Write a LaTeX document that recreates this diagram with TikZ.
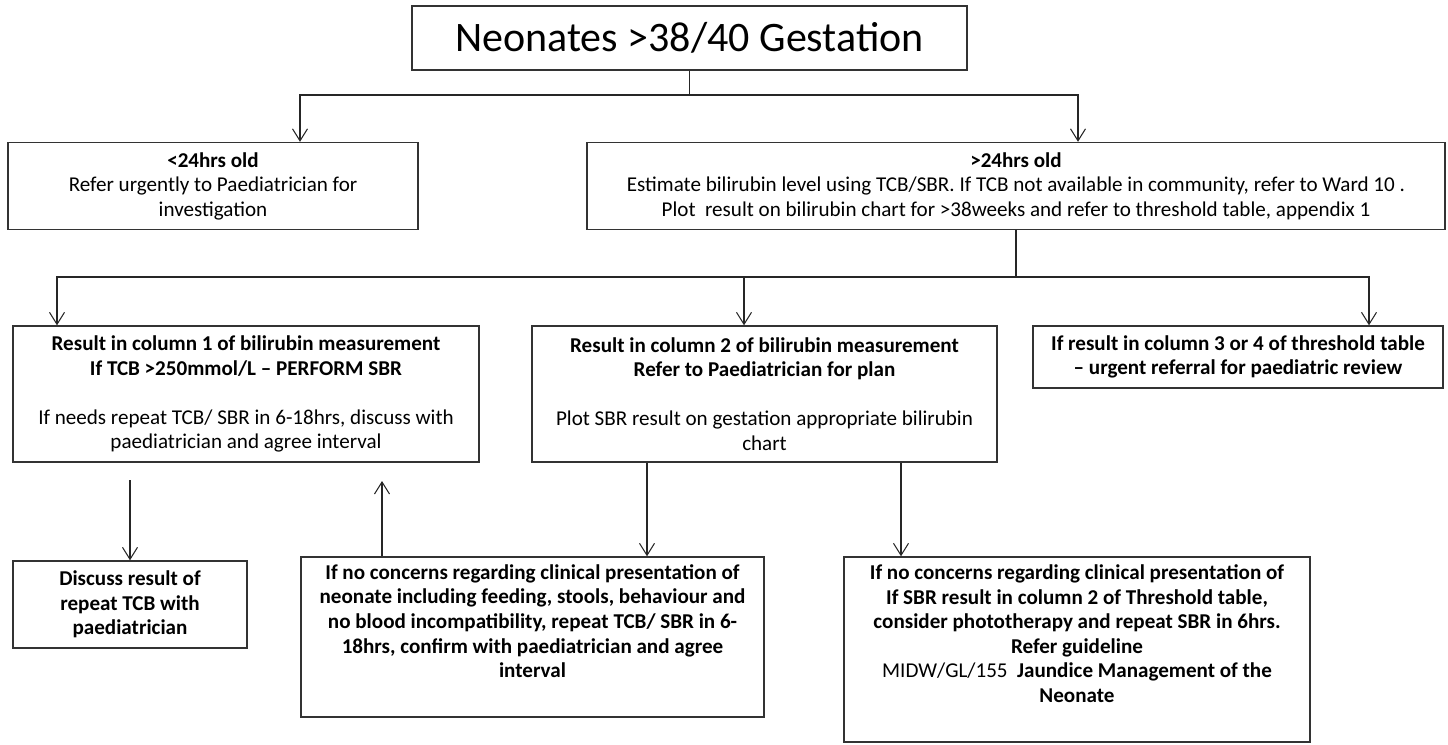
\documentclass[tikz,border=0pt]{standalone}
\usepackage{fontspec}
\setmainfont{Carlito}
\usetikzlibrary{arrows.meta}

\begin{document}
\begin{tikzpicture}[
    % box styles
    titlebox/.style={
        rectangle,
        draw=black!80,
        line width=0.8pt,
        inner sep=0pt,
        minimum width=11.1cm,
        minimum height=1.28cm,
        font=\fontsize{23.9}{28}\selectfont
    },
    stepbox/.style={
        rectangle,
        draw=black!80,
        line width=0.8pt,
        inner sep=0pt,
        align=center,
        font=\fontsize{12}{13.95}\selectfont
    },
    % connector styles
    link/.style={line width=0.6pt, color=black!85},
    arrow/.style={link, -{Straight Barb[length=2.4mm, width=3mm]}}
]

\useasboundingbox (0,0) rectangle (28.96,-14.88);

% TOP: gestation
\node[titlebox] (neonates) at (13.79,-0.76) {Neonates >38/40 Gestation};

% AGE SPLIT
\node[stepbox, minimum width=8.2cm, minimum height=1.74cm] (lt24) at (4.26,-3.72) {
    \textbf{<24hrs old}\\
    Refer urgently to Paediatrician for\\
    investigation
};
\node[stepbox, minimum width=17.16cm, minimum height=1.74cm] (gt24) at (20.32,-3.72) {
    \textbf{>24hrs old}\\
    Estimate bilirubin level using TCB/SBR. If TCB not available in community, refer to Ward 10 .\\
    Plot~ result on bilirubin chart for >38weeks and refer to threshold table, appendix 1
};

% THRESHOLD COLUMNS
\node[stepbox, minimum width=9.32cm, minimum height=2.72cm] (col1) at (4.92,-7.88) {
    \textbf{Result in column 1 of bilirubin measurement}\\
    \textbf{If TCB >250mmol/L -- PERFORM SBR}\\[\baselineskip]
    If needs repeat TCB/ SBR in 6-18hrs, discuss with\\
    paediatrician and agree interval
};
\node[stepbox, minimum width=9.3cm, minimum height=2.72cm] (col2) at (15.29,-7.88) {
    \textbf{Result in column 2 of bilirubin measurement}\\
    \textbf{Refer to Paediatrician for plan}\\[\baselineskip]
    Plot SBR result on gestation appropriate bilirubin\\
    chart
};
\node[stepbox, minimum width=8.2cm, minimum height=1.24cm] (col34) at (24.76,-7.14) {
    \textbf{If result in column 3 or 4 of threshold table}\\
    \textbf{-- urgent referral for paediatric review}
};

% FOLLOW UP
\node[stepbox, minimum width=4.68cm, minimum height=1.74cm] (discuss) at (2.6,-12.09) {
    \textbf{Discuss result of}\\
    \textbf{repeat TCB with}\\
    \textbf{paediatrician}
};
\node[stepbox, minimum width=9.26cm, minimum height=3.2cm] (recheck) at (10.65,-12.74) {
    \textbf{If no concerns regarding clinical presentation of}\\
    \textbf{neonate including feeding, stools, behaviour and}\\
    \textbf{no blood incompatibility, repeat TCB/ SBR in 6-}\\
    \textbf{18hrs, confirm with paediatrician and agree}\\
    \textbf{interval}\\
    \strut
};
\node[stepbox, minimum width=9.32cm, minimum height=3.7cm] (photo) at (21.54,-12.99) {
    \textbf{If no concerns regarding clinical presentation of}\\
    \textbf{If SBR result in column 2 of Threshold table,}\\
    \textbf{consider phototherapy and repeat SBR in 6hrs.}\\
    \textbf{Refer guideline}\\
    MIDW/GL/155\ \ \textbf{Jaundice Management of the}\\
    \textbf{Neonate}\\
    \strut
};

% loose ends
\coordinate (discuss_in) at (2.6,-9.6);
\coordinate (back_up) at (7.64,-9.62);

% arrows from the title
\draw[arrow] (neonates.south) -- (neonates.south |- 0,-1.9) -| (6.0,0 |- lt24.north);
\draw[arrow] (neonates.south) -- (neonates.south |- 0,-1.9) -| (21.56,0 |- gt24.north);

% arrows to the columns
\foreach \x/\target in {1.14/col1, 14.88/col2, 27.38/col34} {
    \draw[arrow] (gt24.south) -- (gt24.south |- 0,-5.54) -| (\x,0 |- \target.north);
}

% lower arrows
\draw[arrow] (discuss_in) -- (discuss.north);
\draw[arrow] (7.64,0 |- recheck.north) -- (back_up);
\draw[arrow] (12.94,0 |- col2.south) -- (12.94,0 |- recheck.north);
\draw[arrow] (18.02,0 |- col2.south) -- (18.02,0 |- photo.north);

\end{tikzpicture}
\end{document}
